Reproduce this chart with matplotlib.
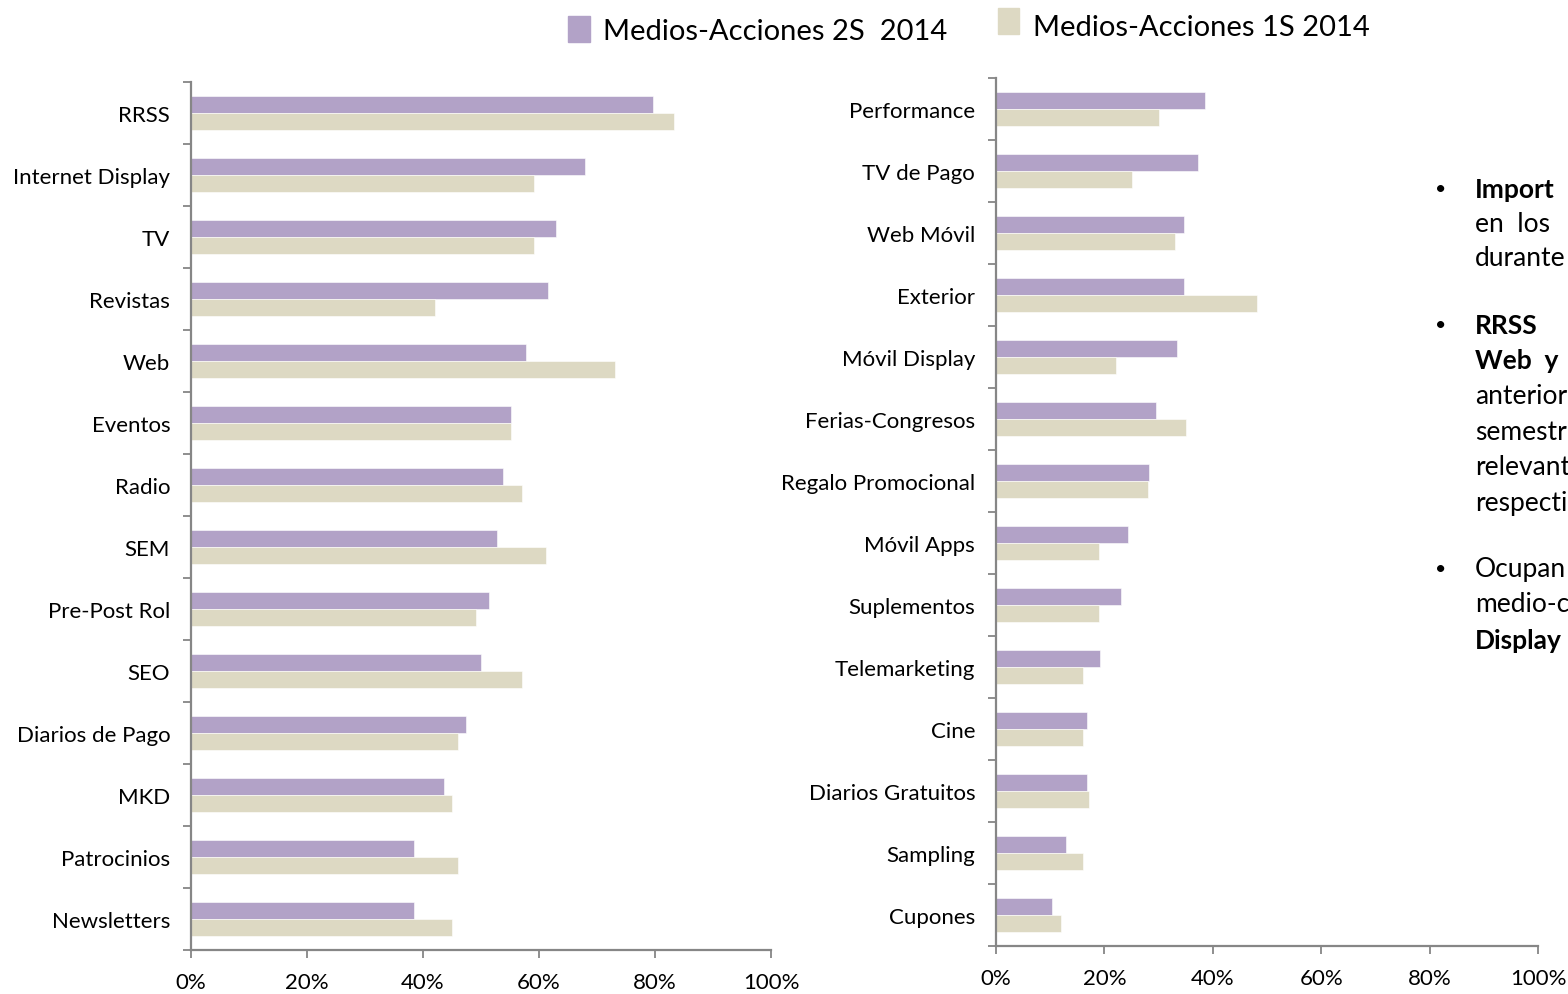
"""
Medios-Acciones 2S vs 1S 2014: two horizontal bar panels
"""

import numpy as np
from matplotlib import pyplot as plt
from matplotlib.ticker import FixedLocator, PercentFormatter

# Data (percent), categories listed top to bottom
LEFT_CATS = ["RRSS", "Internet Display", "TV", "Revistas", "Web", "Eventos", "Radio",
             "SEM", "Pre-Post Rol", "SEO", "Diarios de Pago", "MKD", "Patrocinios",
             "Newsletters"]
LEFT_2S = [79.6, 68.0, 62.9, 61.6, 57.8, 55.2, 53.8, 52.8, 51.4, 50.0, 47.4, 43.6, 38.4, 38.4]
LEFT_1S = [83.2, 59.1, 59.1, 42.1, 73.1, 55.2, 57.1, 61.2, 49.1, 57.1, 46.0, 45.0, 46.0, 45.0]

RIGHT_CATS = ["Performance", "TV de Pago", "Web Móvil", "Exterior", "Móvil Display",
              "Ferias-Congresos", "Regalo Promocional", "Móvil Apps", "Suplementos",
              "Telemarketing", "Cine", "Diarios Gratuitos", "Sampling", "Cupones"]
RIGHT_2S = [38.6, 37.3, 34.7, 34.7, 33.4, 29.6, 28.3, 24.4, 23.1, 19.2, 16.8, 16.8, 12.9, 10.4]
RIGHT_1S = [30.1, 25.1, 33.1, 48.1, 22.1, 35.1, 28.1, 19.0, 19.0, 16.1, 16.1, 17.2, 16.1, 12.0]

X_TICKS = [0, 20, 40, 60, 80, 100]
SERIES = ["Medios-Acciones 2S  2014", "Medios-Acciones 1S 2014"]

# Side commentary, as much as the reference shows before its right edge
NOTE_LINES = ["Import", "en  los", "durante", "RRSS", "Web  y", "anterior", "semestr",
              "relevant", "respecti", "Ocupan", "medio-c", "Display"]

# Styles
PURPLE = "#B2A2C7"
BEIGE = "#DDD9C3"
AXIS_GRAY = "#868686"
FONT = ["Lato", "DejaVu Sans"]
BAR_H = 0.28
NOTE_Y = [190, 225, 259, 326, 361, 397, 433, 468, 503, 569, 605, 641]
NOTE_BOLD = [True, False, False, True, True, False, False, False, False, False, False, True]
NOTE_BULLET = [True, False, False, True, False, False, False, False, False, True, False, False]

plt.rcParams["font.family"] = FONT


def bar_panel(axis, cats, s2, s1):
    """ Draw one panel of paired horizontal bars """
    y = np.arange(len(cats))
    axis.barh(y - BAR_H / 2, s2, height=BAR_H, color=PURPLE, edgecolor="white", linewidth=0.4)
    axis.barh(y + BAR_H / 2, s1, height=BAR_H, color=BEIGE, edgecolor="white", linewidth=0.4)
    axis.set_ylim(len(cats) - 0.5, -0.5)
    axis.set_xlim(0, 100)

    axis.set_yticks(y)
    axis.set_yticklabels(cats, fontsize=16)
    axis.yaxis.set_minor_locator(FixedLocator(np.arange(len(cats) + 1) - 0.5))
    axis.tick_params(axis="y", which="major", length=0, pad=15)
    axis.tick_params(axis="y", which="minor", length=6, width=1.3, color=AXIS_GRAY)

    axis.set_xticks(X_TICKS)
    axis.xaxis.set_major_formatter(PercentFormatter(decimals=0))
    axis.tick_params(axis="x", length=6, width=1.3, color=AXIS_GRAY, labelsize=16, pad=10)

    for side in ("top", "right"):
        axis.spines[side].set_visible(False)
    for side in ("left", "bottom"):
        axis.spines[side].set_color(AXIS_GRAY)
        axis.spines[side].set_linewidth(1.6)


def px(x, y):
    """ Figure fraction from reference pixel position """
    return x / 1568, 1 - y / 995


fig = plt.figure(figsize=(15.68, 9.95), dpi=100)
ax_left = fig.add_axes([191 / 1568, 1 - 951 / 995, 580 / 1568, 868 / 995])
ax_right = fig.add_axes([996 / 1568, 1 - 947 / 995, 542 / 1568, 868 / 995])
bar_panel(ax_left, LEFT_CATS, LEFT_2S, LEFT_1S)
bar_panel(ax_right, RIGHT_CATS, RIGHT_2S, RIGHT_1S)

# Legend drawn as squares + text
fig.patches.append(plt.Rectangle(px(568, 43), 22 / 1568, 26 / 995, color=PURPLE,
                                 transform=fig.transFigure))
fig.patches.append(plt.Rectangle(px(998, 35), 21 / 1568, 26 / 995, color=BEIGE,
                                 transform=fig.transFigure))
fig.text(*px(603, 32), SERIES[0], fontsize=21, va="center", ha="left")
fig.text(*px(1033, 28), SERIES[1], fontsize=21, va="center", ha="left")

for y_pix, line, bold, bullet in zip(NOTE_Y, NOTE_LINES, NOTE_BOLD, NOTE_BULLET):
    fig.text(*px(1475, y_pix), line, fontsize=19, va="center", ha="left",
             fontweight="bold" if bold else "normal")
    if bullet:
        fig.text(*px(1441, y_pix), "•", fontsize=14, va="center", ha="center")

fig.savefig("out.png", dpi=100)
